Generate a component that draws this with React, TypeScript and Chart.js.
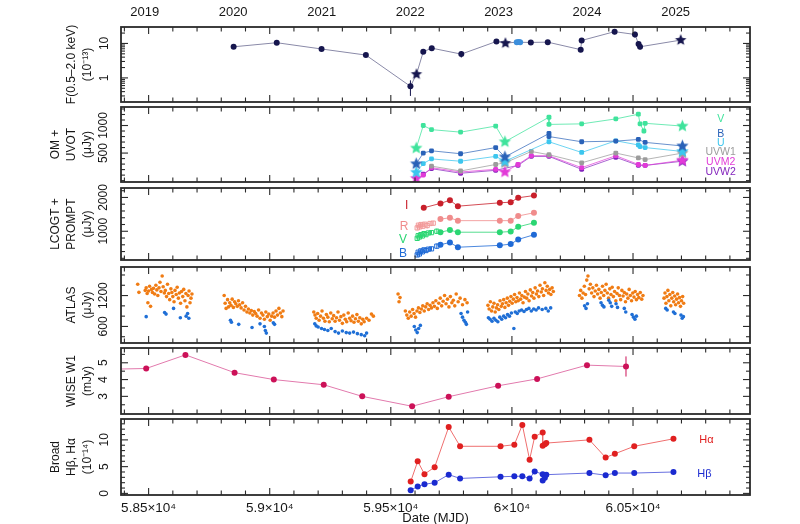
import React, { useEffect, useRef } from 'react';
import Chart from 'chart.js/auto';

const FONT = "'Liberation Sans', Arial, Helvetica, sans-serif";
const INK = '#161616';

// shared time axis (MJD)
const xMin = 58386;
const xMax = 60983;
const xTickValues = [58500, 59000, 59500, 60000, 60500];
const yearLabels = ['2019', '2020', '2021', '2022', '2023', '2024', '2025'];
const yearMjd = [58484, 58849, 59215, 59580, 59945, 60310, 60676];

// panel 1: X-ray flux 0.5-2 keV (1e-13); o = XMM, s = Swift (star), n = other
const xrayMjd = [58851, 59029, 59214, 59397, 59581, 59606, 59634, 59669, 59791, 59936, 59973, 60020, 60028, 60034, 60078, 60148, 60284, 60288, 60424, 60508, 60523, 60529, 60697];
const xrayFlux = [8.0, 10.5, 6.9, 4.6, 0.57, 1.28, 5.75, 7.3, 4.9, 11.4, 10.2, 10.9, 11.0, 10.8, 10.7, 10.9, 6.6, 12.2, 22, 18.2, 9.6, 8.0, 12.5];
const xrayLo = [7.2, 9.7, 6.3, 4.1, 0.3, 1.28, 5.1, 6.7, 3.9, 10.6, 10.2, 10.6, 10.7, 10.5, 10.0, 9.9, 5.6, 10.4, 18.5, 14.8, 8.4, 6.7, 12.5];
const xrayHi = [8.8, 11.3, 7.5, 5.1, 0.85, 1.28, 6.4, 7.9, 6.0, 12.2, 10.2, 11.2, 11.3, 11.1, 11.4, 11.9, 7.6, 14.0, 26, 22, 10.8, 9.4, 12.5];
const xrayKind = ['o', 'o', 'o', 'o', 'o', 's', 'o', 'o', 'o', 'o', 's', 'n', 'n', 'n', 'o', 'o', 'o', 'o', 'o', 'o', 'o', 'o', 's'];

// panel 2: OM + UVOT (uJy), stars at UVOT epochs
const uvotEpochs = [59605, 59971, 60704];
const omV = [[59605, 590], [59634, 1000], [59668, 925], [59788, 880], [59933, 990], [59971, 705], [60153, 1150], [60153, 1020], [60288, 1030], [60429, 1120], [60522, 1205], [60529, 1030], [60545, 900], [60550, 1040], [60704, 990]];
const omB = [[59605, 306], [59634, 500], [59668, 541], [59788, 488], [59933, 600], [59971, 430], [60153, 855], [60153, 800], [60288, 705], [60429, 717], [60522, 747], [60550, 694], [60704, 629]];
const omU = [[59605, 150], [59634, 310], [59668, 394], [59788, 352], [59933, 440], [59971, 352], [60153, 705], [60288, 511], [60429, 723], [60522, 647], [60529, 617], [60550, 600], [60704, 529]];
const omW1 = [[59668, 263], [59788, 175], [59933, 293], [59971, 323], [60080, 529], [60153, 470], [60288, 323], [60429, 500], [60522, 412], [60550, 382], [60704, 500]];
const omM2 = [[59605, 40], [59634, 100], [59668, 235], [59788, 157], [59933, 205], [59971, 157], [60025, 293], [60080, 452], [60153, 452], [60288, 235], [60429, 452], [60522, 293], [60550, 276], [60704, 370]];
const omW2 = [[59634, 117], [59668, 217], [59788, 134], [59933, 187], [60025, 276], [60080, 440], [60153, 440], [60288, 205], [60429, 423], [60522, 276], [60550, 276], [60704, 352]];
const uvotLabels = [
  { x: 60862, y: 1118, text: 'V', color: '#3fe39c' },
  { x: 60862, y: 853, text: 'B', color: '#2a62b8' },
  { x: 60862, y: 687, text: 'U', color: '#3cc6ee' },
  { x: 60862, y: 517, text: 'UVW1', color: '#9c9c9c' },
  { x: 60862, y: 334, text: 'UVM2', color: '#e23ad8' },
  { x: 60862, y: 157, text: 'UVW2', color: '#8424bd' },
];

// panel 3: LCOGT (filled) + PROMPT (open, with error)
const lcoI = [[59636, 1694], [59705, 1825], [59744, 1917], [59777, 1742], [59950, 1842], [59995, 1861], [60026, 1991], [60091, 2056]];
const lcoR = [[59705, 1361], [59744, 1398], [59777, 1314], [59950, 1314], [59995, 1314], [60026, 1453], [60091, 1547]];
const lcoV = [[59705, 972], [59744, 1036], [59777, 972], [59950, 972], [59995, 992], [60026, 1131], [60091, 1250]];
const lcoB = [[59705, 603], [59744, 667], [59777, 528], [59950, 583], [59995, 620], [60026, 758], [60091, 897]];
const promptR = [[59609, 1100, 70], [59614, 1180, 60], [59619, 1130, 80], [59625, 1200, 60], [59632, 1150, 70], [59640, 1210, 60], [59650, 1170, 90], [59662, 1230, 60], [59675, 1240, 70]];
const promptV = [[59609, 790, 60], [59613, 870, 50], [59618, 830, 70], [59624, 900, 50], [59630, 860, 60], [59637, 930, 50], [59645, 900, 70], [59655, 950, 60], [59668, 960, 60], [59690, 1000, 80]];
const promptB = [[59609, 300, 60], [59613, 380, 50], [59618, 330, 70], [59624, 420, 50], [59630, 390, 60], [59637, 450, 50], [59645, 430, 70], [59655, 470, 60], [59668, 480, 60], [59690, 560, 80]];
const lcoLabels = [
  { x: 59565, y: 1760, text: 'I', color: '#c81f2a' },
  { x: 59555, y: 1130, text: 'R', color: '#f08c8c' },
  { x: 59550, y: 745, text: 'V', color: '#2bd673' },
  { x: 59550, y: 345, text: 'B', color: '#1f6ad6' },
];

// panel 4: ATLAS o (orange) and c (blue), flat [mjd, flux, ...]
const atlasO = [
  58455, 1420, 58460, 1262, 58486, 1300, 58490, 1350, 58494, 1240, 58497, 1060, 58500, 1290, 58504, 1380, 58508, 990, 58512, 1320,
  58516, 1260, 58520, 1340, 58525, 1230, 58530, 1400, 58534, 1310, 58538, 1200, 58543, 1350, 58547, 1460, 58551, 1280, 58556, 1580,
  58560, 1370, 58565, 1250, 58569, 1300, 58574, 1180, 58578, 1420, 58583, 1240, 58587, 1120, 58592, 1330, 58596, 1260, 58600, 1180,
  58605, 1080, 58609, 1300, 58614, 1220, 58618, 1360, 58623, 1150, 58627, 1250, 58632, 1050, 58636, 1280, 58641, 1180, 58645, 1320,
  58650, 1100, 58654, 1240, 58658, 980, 58663, 1200, 58667, 1290, 58671, 1060, 58675, 1150, 58679, 1230,
  58812, 1200, 58816, 1050, 58820, 950, 58826, 1120, 58830, 980, 58835, 1060, 58840, 1010, 58845, 1130, 58850, 970, 58855, 1080,
  58860, 1040, 58866, 990, 58871, 1100, 58876, 1020, 58882, 960, 58888, 1060, 58894, 920, 58900, 990, 58906, 880, 58912, 940,
  58918, 860, 58924, 910, 58930, 820, 58936, 890, 58942, 850, 58948, 800, 58954, 920, 58960, 760, 58966, 860, 58972, 820,
  58978, 740, 58984, 880, 58990, 790, 58996, 840, 59002, 720, 59008, 800, 59014, 860, 59020, 780, 59026, 900, 59032, 820,
  59038, 950, 59044, 860, 59050, 790, 59055, 900,
  59182, 880, 59187, 820, 59192, 760, 59198, 850, 59204, 720, 59210, 800, 59216, 900, 59222, 760, 59228, 700, 59234, 830,
  59240, 780, 59246, 690, 59252, 860, 59258, 750, 59264, 810, 59270, 700, 59276, 770, 59282, 880, 59288, 720, 59294, 790,
  59300, 660, 59306, 820, 59312, 740, 59318, 690, 59324, 860, 59330, 760, 59336, 710, 59342, 800, 59348, 680, 59354, 750,
  59360, 830, 59366, 700, 59372, 770, 59378, 650, 59384, 740, 59390, 690, 59400, 760, 59410, 720, 59420, 840, 59428, 800,
  59530, 1230, 59534, 1080, 59538, 1160, 59560, 900, 59566, 820, 59572, 760, 59578, 880, 59584, 800, 59590, 930, 59596, 850,
  59602, 780, 59608, 900, 59614, 960, 59620, 870, 59626, 940, 59632, 1000, 59638, 900, 59644, 980, 59650, 1040, 59656, 930,
  59662, 1010, 59668, 960, 59674, 1060, 59680, 990, 59686, 1100, 59692, 950, 59698, 1050, 59704, 1150, 59710, 1000, 59716, 1090,
  59722, 1200, 59728, 1040, 59734, 1130, 59740, 980, 59746, 1180, 59752, 1060, 59758, 1110, 59764, 1000, 59770, 1230, 59778, 1080,
  59786, 1150, 59796, 1020, 59806, 1120, 59815, 1060,
  59901, 1010, 59906, 940, 59911, 1080, 59916, 900, 59921, 980, 59926, 1050, 59931, 880, 59936, 960, 59941, 1020, 59946, 930,
  59951, 1100, 59956, 990, 59961, 1040, 59966, 1120, 59971, 970, 59976, 1060, 59981, 1150, 59986, 1010, 59991, 1090, 59996, 1180,
  60001, 1050, 60006, 1130, 60011, 1220, 60016, 1080, 60021, 1160, 60026, 1100, 60031, 1250, 60036, 1130, 60041, 1200, 60046, 1060,
  60051, 1170, 60056, 1280, 60061, 1150, 60066, 1230, 60071, 1100, 60076, 1310, 60081, 1190, 60086, 1260, 60091, 1150, 60096, 1350,
  60101, 1230, 60106, 1290, 60111, 1180, 60116, 1400, 60121, 1270, 60126, 1330, 60131, 1200, 60136, 1450, 60141, 1300, 60146, 1380,
  60151, 1250, 60156, 1320, 60161, 1220, 60166, 1350, 60171, 1280,
  60279, 1200, 60284, 1300, 60289, 1150, 60294, 1250, 60299, 1380, 60304, 1220, 60309, 1500, 60314, 1580, 60319, 1330, 60324, 1420,
  60329, 1250, 60334, 1350, 60339, 1180, 60344, 1290, 60349, 1400, 60354, 1230, 60359, 1320, 60364, 1150, 60369, 1260, 60374, 1380,
  60379, 1200, 60384, 1300, 60389, 1420, 60394, 1250, 60399, 1150, 60404, 1330, 60409, 1220, 60414, 1360, 60419, 1180, 60424, 1280,
  60429, 1100, 60434, 1240, 60439, 1350, 60444, 1200, 60449, 1120, 60454, 1300, 60459, 1190, 60464, 1260, 60469, 1080, 60474, 1230,
  60479, 1150, 60484, 1320, 60489, 1200, 60494, 1100, 60499, 1250, 60504, 1170, 60509, 1280, 60514, 1120, 60519, 1220, 60524, 1160,
  60530, 1260, 60536, 1130, 60541, 1200,
  60628, 1150, 60632, 1250, 60636, 1050, 60640, 1180, 60644, 1300, 60648, 1100, 60652, 1220, 60656, 1000, 60660, 1150, 60664, 1260,
  60668, 1080, 60672, 1190, 60676, 1020, 60680, 1130, 60684, 1230, 60688, 1060, 60692, 1160, 60696, 990, 60700, 1100, 60705, 1180,
  60709, 1050,
];
const atlasC = [
  58490, 790, 58566, 870, 58572, 840, 58603, 950, 58631, 770, 58655, 800, 58661, 850, 58666, 760,
  58838, 720, 58842, 680, 58872, 640, 58927, 580, 58960, 650, 58978, 600, 58982, 520, 58986, 470, 59015, 670, 59020, 640,
  59186, 650, 59192, 610, 59200, 590, 59214, 560, 59226, 540, 59240, 520, 59254, 560, 59270, 500, 59284, 470, 59300, 510,
  59316, 480, 59330, 470, 59346, 490, 59362, 460, 59378, 440, 59392, 420, 59400, 470,
  59597, 600, 59603, 530, 59609, 480, 59615, 560, 59622, 620, 59790, 850, 59796, 780, 59802, 720, 59808, 680, 59812, 640, 59817, 880,
  59903, 770, 59910, 740, 59918, 700, 59926, 760, 59934, 720, 59942, 690, 59950, 780, 59958, 740, 59966, 800, 59974, 770,
  59982, 830, 59990, 800, 59998, 860, 60008, 560, 60014, 880, 60022, 850, 60030, 900, 60040, 920, 60050, 890, 60060, 930,
  60070, 950, 60080, 900, 60090, 940, 60100, 920, 60110, 960, 60125, 930, 60140, 950, 60150, 900, 60160, 960,
  60300, 1000, 60306, 950, 60312, 1040, 60368, 1060, 60374, 1010, 60380, 980, 60400, 1110, 60406, 1060, 60412, 990, 60430, 1040,
  60436, 970, 60464, 950, 60470, 880, 60496, 830, 60502, 780, 60508, 740, 60514, 800,
  60635, 950, 60641, 920, 60667, 880, 60673, 850, 60698, 820, 60703, 760, 60708, 790,
];

// panel 5: WISE W1 (mJy)
const wiseMjd = [58220, 58490, 58652, 58855, 59017, 59223, 59382, 59588, 59739, 59943, 60104, 60310, 60471];
const wiseFlux = [4.58, 4.66, 5.47, 4.41, 4.0, 3.69, 3.0, 2.41, 2.98, 3.63, 4.04, 4.86, 4.78];
const wiseErr = [0.08, 0.08, 0.12, 0.07, 0.08, 0.07, 0.1, 0.07, 0.07, 0.08, 0.07, 0.08, 0.6];

// panel 6: broad Hbeta, Halpha (1e-14)
const specMjd = [59582, 59611, 59639, 59681, 59739, 59786, 59953, 60010, 60043, 60073, 60094, 60127, 60127, 60136, 60142, 60320, 60387, 60425, 60505, 60667];
const haFlux = [2.2, 6.0, 3.6, 4.9, 12.4, 8.8, 8.8, 9.1, 12.8, 6.3, 10.6, 11.4, 8.9, 9.2, 9.4, 10.0, 6.7, 7.4, 8.8, 10.2];
const hbFlux = [0.6, 1.3, 1.7, 2.0, 3.5, 2.8, 3.1, 3.2, 3.2, 2.8, 4.1, 3.6, 2.4, 2.9, 3.5, 3.8, 3.4, 3.8, 3.8, 4.0];
const specLabels = [
  { x: 60803, y: 9.9, text: 'Hα', color: '#e02020' },
  { x: 60795, y: 3.6, text: 'Hβ', color: '#1a2ad0' },
];

// page layout: chart-area top/bottom of each panel (px)
const boxes = [[27, 103], [106, 183], [186, 262], [266, 344], [347, 415], [418, 495]];

const pts = (arr: number[][]) => arr.map((p) => ({ x: p[0], y: p[1] }));
const flatPts = (arr: number[]) => {
  const out: any[] = [];
  for (let i = 0; i < arr.length; i += 2) out.push({ x: arr[i], y: arr[i + 1] });
  return out;
};

function makeStar(color: string, r: number) {
  const c = document.createElement('canvas');
  const s = Math.ceil(r * 2 + 2);
  c.width = s;
  c.height = s;
  const g = c.getContext('2d')!;
  g.fillStyle = color;
  g.beginPath();
  for (let i = 0; i < 10; i++) {
    const a = -Math.PI / 2 + (i * Math.PI) / 5;
    const rr = i % 2 === 0 ? r : r * 0.45;
    g.lineTo(s / 2 + rr * Math.cos(a), s / 2 + rr * Math.sin(a));
  }
  g.closePath();
  g.fill();
  return c;
}

const errPlugin = {
  id: 'errbars',
  beforeDatasetsDraw(chart: any) {
    const { ctx, chartArea: a } = chart;
    ctx.save();
    ctx.beginPath();
    ctx.rect(a.left, a.top, a.width, a.height);
    ctx.clip();
    chart.data.datasets.forEach((ds: any) => {
      if (!ds.errLo) return;
      ctx.strokeStyle = ds.errColor;
      ctx.lineWidth = 1;
      ds.data.forEach((p: any, i: number) => {
        const lo = ds.errLo[i];
        const hi = ds.errHi[i];
        if (lo == null || hi == null || lo === hi) return;
        const px = chart.scales.x.getPixelForValue(p.x);
        ctx.beginPath();
        ctx.moveTo(px, chart.scales.y.getPixelForValue(lo));
        ctx.lineTo(px, chart.scales.y.getPixelForValue(hi));
        ctx.stroke();
      });
    });
    ctx.restore();
  },
};

const framePlugin = {
  id: 'frame',
  afterDraw(chart: any, _args: any, opts: any) {
    const { ctx, chartArea: a, scales } = chart;
    const seg = (x1: number, y1: number, x2: number, y2: number) => {
      ctx.beginPath();
      ctx.moveTo(x1, y1);
      ctx.lineTo(x2, y2);
      ctx.stroke();
    };
    ctx.save();
    ctx.strokeStyle = '#2a2a2a';
    ctx.lineWidth = 1.1;
    for (let m = 58400; m <= 60900; m += 100) {
      const px = scales.x.getPixelForValue(m);
      if (px <= a.left || px >= a.right) continue;
      const len = m % 500 === 0 ? 7 : 4.5;
      seg(px, a.top, px, a.top + len);
      seg(px, a.bottom, px, a.bottom - len);
    }
    const yt = (v: number, len: number) => {
      const py = scales.y.getPixelForValue(v);
      if (py <= a.top + 1 || py >= a.bottom - 1) return;
      seg(a.left, py, a.left + len, py);
      seg(a.right, py, a.right - len, py);
    };
    (opts.major || []).forEach((v: number) => yt(v, 7));
    (opts.minor || []).forEach((v: number) => yt(v, 4));
    ctx.lineWidth = 1.8;
    ctx.strokeRect(a.left, a.top, a.width, a.height);
    ctx.restore();
  },
};

const annotPlugin = {
  id: 'annot',
  afterDatasetsDraw(chart: any, _args: any, opts: any) {
    const items = opts.items || [];
    const { ctx, scales } = chart;
    ctx.save();
    ctx.textAlign = 'center';
    ctx.textBaseline = 'middle';
    ctx.font = `${opts.size || 11}px ${FONT}`;
    items.forEach((it: any) => {
      ctx.fillStyle = it.color;
      ctx.fillText(it.text, scales.x.getPixelForValue(it.x), scales.y.getPixelForValue(it.y));
    });
    ctx.restore();
  },
};

function fmtMjd(v: number) {
  return `${v / 1e4}×10⁴`;
}

function buildPanels() {
  const navyStar = makeStar('#16164e', 6);
  const line = (data: any[], color: string, lineColor: string, extra: any = {}) => ({
    data,
    showLine: true,
    borderColor: lineColor,
    borderWidth: 1,
    pointRadius: 3,
    pointBackgroundColor: color,
    pointBorderColor: color,
    pointBorderWidth: 0,
    ...extra,
  });
  const band = (arr: number[][], color: string, lineColor: string) => {
    const star = makeStar(color, 6.5);
    return line(pts(arr), color, lineColor, {
      pointRadius: 2.8,
      pointStyle: (c: any) => (c.raw && uvotEpochs.includes(c.raw.x) ? star : 'rectRounded'),
    });
  };
  const openSq = (arr: number[][], color: string) => ({
    data: pts(arr),
    showLine: false,
    pointStyle: 'rect',
    pointRadius: 3,
    pointBackgroundColor: 'rgba(255,255,255,0)',
    pointBorderColor: color,
    pointBorderWidth: 1,
    errLo: arr.map((p) => p[1] - p[2]),
    errHi: arr.map((p) => p[1] + p[2]),
    errColor: color,
  });

  return [
    {
      yType: 'logarithmic', yMin: 0.2, yMax: 30, tickPad: 10,
      major: [1, 10], minor: [0.3, 0.4, 0.5, 0.6, 0.7, 0.8, 0.9, 2, 3, 4, 5, 6, 7, 8, 9, 20],
      title: ['F(0.5–2.0 keV)', '(10⁻¹³)'],
      labels: [],
      datasets: [
        line(xrayMjd.map((m, i) => ({ x: m, y: xrayFlux[i] })), '#16164e', '#8a8aa8', {
          pointStyle: (c: any) => (xrayKind[c.dataIndex] === 's' ? navyStar : 'circle'),
          pointBackgroundColor: (c: any) => (xrayKind[c.dataIndex] === 'n' ? '#3d8fdc' : '#16164e'),
          pointBorderColor: (c: any) => (xrayKind[c.dataIndex] === 'n' ? '#3d8fdc' : '#16164e'),
          errLo: xrayLo, errHi: xrayHi, errColor: '#16164e',
        }),
      ],
    },
    {
      yType: 'linear', yMin: -25, yMax: 1336, tickPad: 3.5,
      major: [500, 1000], minor: [0, 100, 200, 300, 400, 600, 700, 800, 900, 1100, 1200, 1300],
      title: ['OM +', 'UVOT', '(μJy)'],
      labels: uvotLabels, labelSize: 10.5,
      datasets: [
        band(omV, '#3fe39c', 'rgba(63,227,156,0.75)'),
        band(omB, '#2a62b8', 'rgba(42,98,184,0.7)'),
        band(omU, '#3cc6ee', 'rgba(60,198,238,0.75)'),
        band(omW1, '#9c9c9c', 'rgba(156,156,156,0.75)'),
        band(omM2, '#e23ad8', 'rgba(226,58,216,0.7)'),
        band(omW2, '#8424bd', 'rgba(132,36,189,0.7)'),
      ],
    },
    {
      yType: 'linear', yMin: 150, yMax: 2280, tickPad: 3.5,
      major: [1000, 2000], minor: [200, 400, 600, 800, 1200, 1400, 1600, 1800, 2200],
      title: ['LCOGT +', 'PROMPT', '(μJy)'],
      labels: lcoLabels, labelSize: 12,
      datasets: [
        openSq(promptR, '#f29a9a'),
        openSq(promptV, '#2bd673'),
        openSq(promptB, '#1f6ad6'),
        line(pts(lcoI), '#c81f2a', 'rgba(200,31,42,0.8)'),
        line(pts(lcoR), '#f08c8c', 'rgba(240,140,140,0.8)'),
        line(pts(lcoV), '#2bd673', 'rgba(43,214,115,0.8)'),
        line(pts(lcoB), '#1f6ad6', 'rgba(31,106,214,0.8)'),
      ],
    },
    {
      yType: 'linear', yMin: 278, yMax: 1755, tickPad: 3.5,
      major: [600, 1200], minor: [400, 800, 1000, 1400, 1600],
      title: ['ATLAS', '(μJy)'],
      labels: [],
      datasets: [
        { data: flatPts(atlasC), showLine: false, pointRadius: 1.8, pointBackgroundColor: '#1f6fd6', pointBorderWidth: 0 },
        { data: flatPts(atlasO), showLine: false, pointRadius: 1.8, pointBackgroundColor: '#f07c14', pointBorderWidth: 0 },
      ],
    },
    {
      yType: 'linear', yMin: 1.95, yMax: 5.88, tickPad: 13.5,
      major: [3, 4, 5], minor: [2, 2.5, 3.5, 4.5, 5.5],
      title: ['WISE W1', '(mJy)'],
      labels: [],
      datasets: [
        line(wiseMjd.map((m, i) => ({ x: m, y: wiseFlux[i] })), '#cc1158', '#e27aad', {
          errLo: wiseFlux.map((f, i) => f - wiseErr[i]),
          errHi: wiseFlux.map((f, i) => f + wiseErr[i]),
          errColor: '#cc1158',
        }),
      ],
    },
    {
      yType: 'linear', yMin: -0.3, yMax: 13.9, tickPad: 10,
      major: [0, 5, 10], minor: [1, 2, 3, 4, 6, 7, 8, 9, 11, 12, 13],
      title: ['Broad', 'Hβ, Hα', '(10⁻¹⁴)'],
      labels: specLabels, labelSize: 11,
      datasets: [
        line(specMjd.map((m, i) => ({ x: m, y: haFlux[i] })), '#e02020', '#ef6f6f'),
        line(specMjd.map((m, i) => ({ x: m, y: hbFlux[i] })), '#1a2ad0', '#6870e0'),
      ],
    },
  ];
}

function canvasGeom(i: number) {
  const [top, bottom] = boxes[i];
  const cTop = i === 0 ? 0 : top - 3;
  const cBottom = i === boxes.length - 1 ? 524 : bottom + 3;
  return { top, bottom, cTop, height: cBottom - cTop };
}

function buildConfig(spec: any, i: number): any {
  const { top, bottom } = canvasGeom(i);
  const first = i === 0;
  const last = i === boxes.length - 1;
  const n = spec.title.length;
  const titlePad = 88 - 16.2 * (n - 1) - 8.1;
  const scales: any = {
    x: {
      type: 'linear',
      min: xMin,
      max: xMax,
      display: last,
      afterFit: (s: any) => {
        s.height = last ? 524 - bottom : 0;
        s.paddingLeft = 0;
        s.paddingRight = 0;
      },
      afterBuildTicks: (s: any) => { s.ticks = xTickValues.map((v) => ({ value: v })); },
      grid: { display: false, drawTicks: false },
      border: { display: false },
      ticks: {
        autoSkip: false, maxRotation: 0, padding: 5, color: INK,
        font: { family: FONT, size: 13.5 },
        callback: (v: number) => fmtMjd(v),
      },
      title: { display: true, text: 'Date (MJD)', color: INK, font: { family: FONT, size: 13 }, padding: { top: 0, bottom: -2 } },
    },
    y: {
      type: spec.yType,
      min: spec.yMin,
      max: spec.yMax,
      position: 'left',
      afterFit: (s: any) => {
        s.width = 121;
        s.paddingTop = 0;
        s.paddingBottom = 0;
      },
      afterBuildTicks: (s: any) => { s.ticks = spec.major.map((v: number) => ({ value: v })); },
      grid: { display: false, drawTicks: false },
      border: { display: false },
      ticks: {
        autoSkip: false, minRotation: 90, maxRotation: 90, crossAlign: 'center',
        padding: spec.tickPad, color: INK,
        font: { family: FONT, size: 12 },
        callback: (v: number) => String(v),
      },
      title: {
        display: true, text: spec.title, color: INK,
        font: { family: FONT, size: 12, lineHeight: 1.35 },
        padding: { top: titlePad, bottom: 0 },
      },
    },
  };
  if (first) {
    scales.x2 = {
      type: 'linear',
      position: 'top',
      min: xMin,
      max: xMax,
      afterFit: (s: any) => {
        s.height = top;
        s.paddingLeft = 0;
        s.paddingRight = 0;
      },
      afterBuildTicks: (s: any) => { s.ticks = yearMjd.map((v) => ({ value: v })); },
      grid: { display: false, drawTicks: false },
      border: { display: false },
      ticks: {
        autoSkip: false, maxRotation: 0, padding: 7, color: INK,
        font: { family: FONT, size: 13 },
        callback: (v: number) => yearLabels[yearMjd.indexOf(v)],
      },
    };
  }
  return {
    type: 'scatter',
    data: { datasets: spec.datasets },
    options: {
      responsive: false,
      maintainAspectRatio: false,
      animation: false,
      events: [],
      layout: { padding: { left: 0, right: 50, top: first ? 0 : 3, bottom: last ? 0 : 3 } },
      plugins: {
        legend: { display: false },
        tooltip: { enabled: false },
        frame: { major: spec.major, minor: spec.minor },
        annot: { items: spec.labels, size: spec.labelSize || 11 },
      },
      scales,
    },
    plugins: [errPlugin, framePlugin, annotPlugin],
  };
}

export default function App() {
  const canvasRefs = useRef<(HTMLCanvasElement | null)[]>([]);

  useEffect(() => {
    Chart.defaults.font.family = FONT;
    const specs = buildPanels();
    const charts = specs.map((spec, i) => new Chart(canvasRefs.current[i] as HTMLCanvasElement, buildConfig(spec, i)));
    return () => charts.forEach((c) => c.destroy());
  }, []);

  return (
    <div style={{ position: 'fixed', left: 0, top: 0, width: 800, height: 524, background: '#fff', overflow: 'hidden' }}>
      {boxes.map((_, i) => {
        const g = canvasGeom(i);
        return (
          <canvas
            key={i}
            ref={(el) => { canvasRefs.current[i] = el; }}
            width={800}
            height={g.height}
            style={{ position: 'absolute', left: 0, top: g.cTop, width: 800, height: g.height }}
          />
        );
      })}
    </div>
  );
}
